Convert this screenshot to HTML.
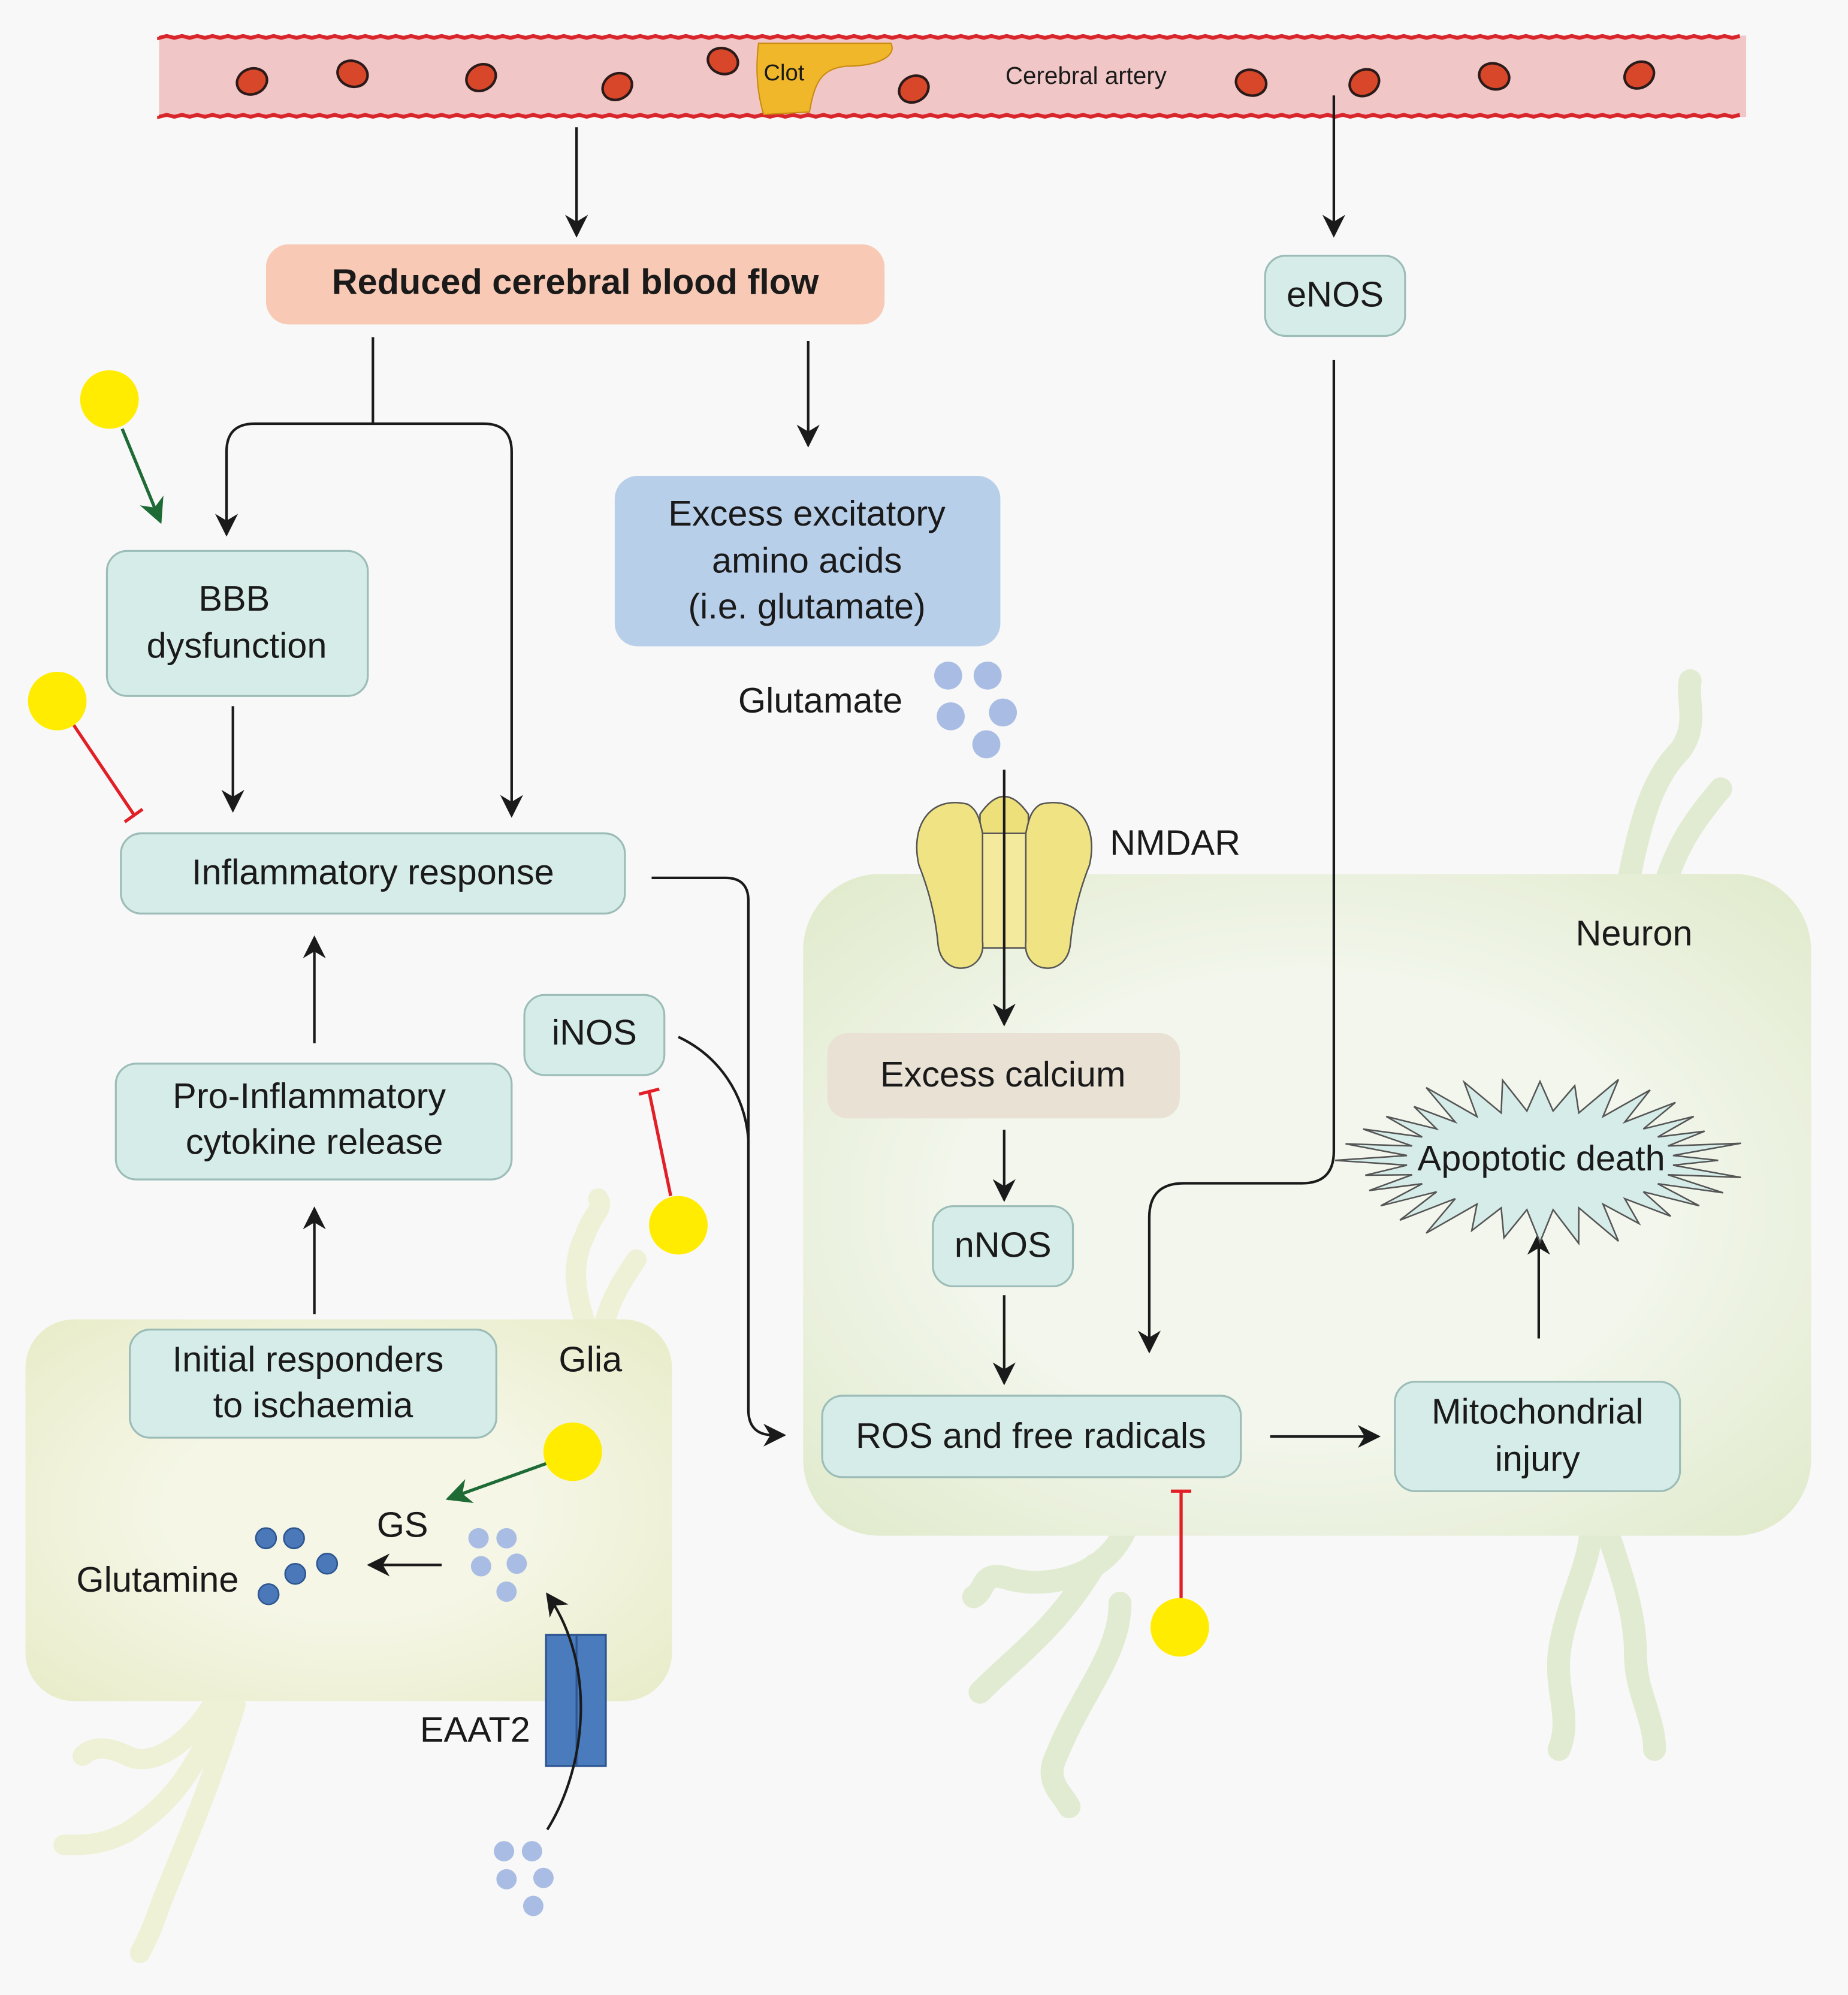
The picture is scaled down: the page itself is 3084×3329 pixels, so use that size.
<!DOCTYPE html>
<html><head><meta charset="utf-8"><style>
html,body{margin:0;padding:0;background:#fcfcfc}
svg{display:block}
text{font-family:"Liberation Sans",Arial,sans-serif;fill:#1a1a1a}
</style></head><body>
<svg id="s" width="3084" height="3329" viewBox="0 0 1452 1568" preserveAspectRatio="none" xmlns="http://www.w3.org/2000/svg">
<defs>
<marker id="ab" viewBox="0 0 10 10" refX="9" refY="5" markerWidth="18" markerHeight="18" orient="auto" markerUnits="userSpaceOnUse"><path d="M0,0 L10,5 L0,10 L3,5 z" fill="#1a1a1a"/></marker>
<marker id="ag" viewBox="0 0 10 10" refX="9" refY="5" markerWidth="20" markerHeight="20" orient="auto" markerUnits="userSpaceOnUse"><path d="M0,0 L10,5 L0,10 L3,5 z" fill="#1e6b35"/></marker>
<radialGradient id="gn" cx="0.5" cy="0.5" r="0.7"><stop offset="0.5" stop-color="#f2f6ec"/><stop offset="1" stop-color="#e0eacb"/></radialGradient>
<radialGradient id="gg" cx="0.5" cy="0.5" r="0.7"><stop offset="0.4" stop-color="#f5f6e6"/><stop offset="1" stop-color="#e8ecc8"/></radialGradient>
</defs>
<rect x="0" y="0" width="1452" height="1568" fill="#f8f8f8"/>

<g fill="none" stroke="#e1ebd2" stroke-width="18" stroke-linecap="round">
<path d="M1280,690 C1290,640 1300,610 1320,590 C1335,570 1325,550 1328,535"/>
<path d="M1310,690 C1320,660 1335,640 1352,620"/>
<path d="M885,1200 C870,1240 820,1250 790,1240 C770,1235 775,1250 765,1255"/>
<path d="M860,1230 C830,1280 800,1300 770,1330"/>
<path d="M880,1260 C880,1300 850,1330 830,1380 C820,1400 835,1410 840,1420"/>
<path d="M1250,1200 C1250,1230 1230,1260 1225,1300 C1222,1330 1235,1350 1225,1375"/>
<path d="M1265,1210 C1275,1240 1285,1270 1285,1300 C1285,1330 1300,1350 1300,1375"/>
</g>
<g fill="none" stroke="#eef1d6" stroke-width="16" stroke-linecap="round">
<path d="M460,1040 C450,1010 450,990 460,970 C465,955 475,950 470,942"/>
<path d="M475,1040 C480,1020 490,1005 500,990"/>
<path d="M170,1335 C150,1370 120,1390 100,1380 C80,1370 70,1375 65,1380"/>
<path d="M175,1340 C150,1400 130,1420 100,1440 C80,1450 70,1450 50,1450"/>
<path d="M185,1340 C160,1420 140,1460 125,1500 C118,1520 115,1525 110,1535"/>
</g>

<rect x="20" y="1037" width="508" height="300" rx="38" fill="url(#gg)"/>
<rect x="631" y="687" width="792" height="520" rx="60" fill="url(#gn)"/>

<rect x="125" y="28" width="1247" height="64" fill="#f0c6c6"/>
<path id="wv" d="" fill="none" stroke="#d9262c" stroke-width="3"/>
<path id="wv2" d="" fill="none" stroke="#d9262c" stroke-width="3"/>
<g fill="#d8472a" stroke="#2a1a1a" stroke-width="2">
<ellipse cx="198" cy="64" rx="12" ry="10" transform="rotate(-20 198 64)"/>
<ellipse cx="277" cy="58" rx="12" ry="10" transform="rotate(20 277 58)"/>
<ellipse cx="378" cy="61" rx="12" ry="10" transform="rotate(-30 378 61)"/>
<ellipse cx="485" cy="68" rx="12" ry="10" transform="rotate(-30 485 68)"/>
<ellipse cx="568" cy="48" rx="12" ry="10" transform="rotate(20 568 48)"/>
<ellipse cx="718" cy="70" rx="12" ry="10" transform="rotate(-30 718 70)"/>
<ellipse cx="983" cy="65" rx="12" ry="10" transform="rotate(15 983 65)"/>
<ellipse cx="1072" cy="65" rx="12" ry="10" transform="rotate(-30 1072 65)"/>
<ellipse cx="1174" cy="60" rx="12" ry="10" transform="rotate(20 1174 60)"/>
<ellipse cx="1288" cy="59" rx="12" ry="10" transform="rotate(-30 1288 59)"/>
</g>
<path d="M596,34 L700,34 C705,44 690,52 665,52 C645,54 640,65 636,88 L600,90 C594,70 594,50 596,34 z" fill="#f0b72a" stroke="#c98a10" stroke-width="1"/>
<text x="600" y="63" font-size="18">Clot</text>
<text x="790" y="66" font-size="19">Cerebral artery</text>

<g fill="none" stroke="#1a1a1a" stroke-width="2">
<line x1="453" y1="100" x2="453" y2="185" marker-end="url(#ab)"/>
<line x1="1048" y1="75" x2="1048" y2="185" marker-end="url(#ab)"/>
<path d="M293,265 V333 H200 Q178,333 178,355 V420" marker-end="url(#ab)"/>
<path d="M293,333 H380 Q402,333 402,355 V641" marker-end="url(#ab)"/>
<line x1="635" y1="268" x2="635" y2="350" marker-end="url(#ab)"/>
<line x1="183" y1="555" x2="183" y2="637" marker-end="url(#ab)"/>
<line x1="247" y1="820" x2="247" y2="737" marker-end="url(#ab)"/>
<line x1="247" y1="1033" x2="247" y2="950" marker-end="url(#ab)"/>
<path d="M512,690 H570 Q588,690 588,708 V1108 Q588,1128 608,1128 H616" marker-end="url(#ab)"/>
<path d="M533,815 C565,830 585,860 588,895"/>
<line x1="347" y1="1230" x2="290" y2="1230" marker-end="url(#ab)"/>
<line x1="789" y1="888" x2="789" y2="943" marker-end="url(#ab)"/>
<line x1="789" y1="1018" x2="789" y2="1087" marker-end="url(#ab)"/>
<line x1="998" y1="1129" x2="1083" y2="1129" marker-end="url(#ab)"/>
<line x1="1209" y1="1052" x2="1209" y2="970" marker-end="url(#ab)"/>
<path d="M1048,283 V905 Q1048,930 1023,930 H930 Q903,930 903,957 V1062" marker-end="url(#ab)"/>
</g>
<g stroke="#e21f26" stroke-width="2.5" fill="none">
<line x1="58" y1="570" x2="105" y2="640"/><line x1="98" y1="646" x2="112" y2="636"/>
<line x1="527" y1="940" x2="510" y2="858"/><line x1="502" y1="860" x2="518" y2="856"/>
<line x1="928" y1="1256" x2="928" y2="1172"/><line x1="920" y1="1172" x2="936" y2="1172"/>
</g>
<g stroke="#1e6b35" stroke-width="2.5" fill="none">
<line x1="96" y1="337" x2="126" y2="410" marker-end="url(#ag)"/>
<line x1="430" y1="1150" x2="352" y2="1178" marker-end="url(#ag)"/>
</g>
<g fill="#ffec00">
<circle cx="86" cy="314" r="23"/><circle cx="45" cy="551" r="23"/>
<circle cx="533" cy="963" r="23"/><circle cx="450" cy="1141" r="23"/>
<circle cx="927" cy="1279" r="23"/>
</g>

<g stroke="#9cbcb7" stroke-width="1.5" fill="#d6ece8">
<rect x="209" y="192" width="486" height="63" rx="18" fill="#f8c9b5" stroke="none"/>
<rect x="994" y="201" width="110" height="63" rx="16"/>
<rect x="483" y="374" width="303" height="134" rx="18" fill="#b8cfea" stroke="none"/>
<rect x="84" y="433" width="205" height="114" rx="16"/>
<rect x="95" y="655" width="396" height="63" rx="16"/>
<rect x="91" y="836" width="311" height="91" rx="16"/>
<rect x="412" y="782" width="110" height="63" rx="16"/>
<rect x="102" y="1045" width="288" height="85" rx="16"/>
<rect x="650" y="812" width="277" height="67" rx="16" fill="#e8e1d4" stroke="none"/>
<rect x="733" y="948" width="110" height="63" rx="16"/>
<rect x="646" y="1097" width="329" height="64" rx="16"/>
<rect x="1096" y="1086" width="224" height="86" rx="16"/>
</g>
<polygon id="sp" points="" fill="#d6ece8" stroke="#555" stroke-width="1.2"/>

<g stroke="#555" stroke-width="1.2">
<path d="M770,640 Q789,612 808,640 L808,745 L770,745 z" fill="#ede07a"/>
<rect x="771" y="655" width="36" height="90" fill="#f3ea9e"/>
<path d="M760,632 C730,625 715,650 722,680 C730,700 735,720 737,742 C740,770 775,765 772,740 L772,655 C770,645 768,636 760,632 z" fill="#f0e383"/>
<path d="M818,632 C848,625 863,650 856,680 C848,700 843,720 841,742 C838,770 803,765 806,740 L806,655 C808,645 810,636 818,632 z" fill="#f0e383"/>
</g>
<line x1="789" y1="605" x2="789" y2="805" stroke="#1a1a1a" stroke-width="2" marker-end="url(#ab)"/>

<rect x="429" y="1285" width="24" height="103" fill="#4a7bbd" stroke="#2d5590" stroke-width="1.5"/>
<rect x="453" y="1285" width="23" height="103" fill="#4a7bbd" stroke="#2d5590" stroke-width="1.5"/>
<path d="M430,1438 C460,1390 470,1310 430,1253" fill="none" stroke="#1a1a1a" stroke-width="2" marker-end="url(#ab)"/>

<g fill="#a9bde4">
<circle cx="745" cy="531" r="11"/><circle cx="776" cy="531" r="11"/><circle cx="788" cy="560" r="11"/><circle cx="747" cy="563" r="11"/><circle cx="775" cy="585" r="11"/>
<circle cx="376" cy="1209" r="8"/><circle cx="398" cy="1209" r="8"/><circle cx="406" cy="1229" r="8"/><circle cx="378" cy="1231" r="8"/><circle cx="398" cy="1251" r="8"/>
<circle cx="396" cy="1455" r="8"/><circle cx="418" cy="1455" r="8"/><circle cx="398" cy="1477" r="8"/><circle cx="427" cy="1476" r="8"/><circle cx="419" cy="1498" r="8"/>
</g>
<g fill="#4a78b8" stroke="#2d5590" stroke-width="1.2">
<circle cx="209" cy="1209" r="8"/><circle cx="231" cy="1209" r="8"/><circle cx="257" cy="1229" r="8"/><circle cx="232" cy="1237" r="8"/><circle cx="211" cy="1253" r="8"/>
</g>

<g font-size="28" text-anchor="middle">
<text x="452" y="231" font-weight="bold">Reduced cerebral blood flow</text>
<text x="1049" y="241">eNOS</text>
<text x="634" y="413">Excess excitatory</text>
<text x="634" y="450">amino acids</text>
<text x="634" y="486">(i.e. glutamate)</text>
<text x="184" y="480">BBB</text>
<text x="186" y="517">dysfunction</text>
<text x="293" y="695">Inflammatory response</text>
<text x="243" y="871">Pro-Inflammatory</text>
<text x="247" y="907">cytokine release</text>
<text x="467" y="821">iNOS</text>
<text x="242" y="1078">Initial responders</text>
<text x="246" y="1114">to ischaemia</text>
<text x="788" y="854">Excess calcium</text>
<text x="788" y="988">nNOS</text>
<text x="810" y="1138">ROS and free radicals</text>
<text x="1208" y="1119">Mitochondrial</text>
<text x="1208" y="1156">injury</text>
<text x="1211" y="920">Apoptotic death</text>
</g>
<g font-size="28">
<text x="580" y="560">Glutamate</text>
<text x="872" y="672">NMDAR</text>
<text x="1238" y="743">Neuron</text>
<text x="439" y="1078">Glia</text>
<text x="296" y="1208">GS</text>
<text x="60" y="1251">Glutamine</text>
<text x="330" y="1369">EAAT2</text>
</g>
</svg>
<script>
(function(){
 function wave(y,a){var d="M125,"+y;for(var x=125;x<=1372;x+=6){d+=" L"+x+","+(y+a*Math.sin(x/6*Math.PI));}return d;}
 document.getElementById("wv").setAttribute("d",wave(29,1.5));
 document.getElementById("wv2").setAttribute("d",wave(91,1.5));
 var p=[],cx=1210,cy=912,n=64;
 for(var i=0;i<n;i++){var t=i/n*2*Math.PI;var sp=(i%2==0);var r1=sp?1.0+0.15*((i*37)%5)/4:0.75;
 var rx=140*r1,ry=52*r1; if(sp){ry*=1.15;}
 p.push((cx+rx*Math.cos(t)).toFixed(1)+","+(cy+ry*Math.sin(t)).toFixed(1));}
 document.getElementById("sp").setAttribute("points",p.join(" "));
})();
</script>
</body></html>
